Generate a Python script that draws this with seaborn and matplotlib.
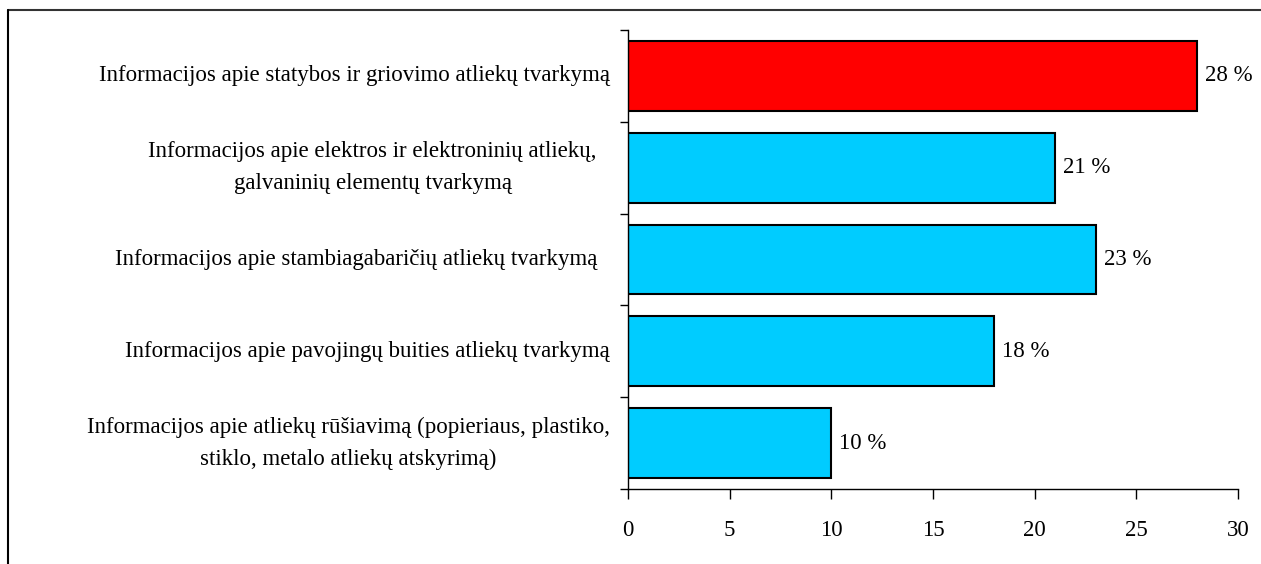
import matplotlib
matplotlib.use("Agg")
import matplotlib.pyplot as plt
import seaborn as sns
import pandas as pd
from matplotlib.lines import Line2D
from matplotlib.transforms import blended_transform_factory

categories = [
    "Informacijos apie statybos ir griovimo atliekų tvarkymą",
    "Informacijos apie elektros ir elektroninių atliekų,\ngalvaninių elementų tvarkymą",
    "Informacijos apie stambiagabaričių atliekų tvarkymą",
    "Informacijos apie pavojingų buities atliekų tvarkymą",
    "Informacijos apie atliekų rūšiavimą (popieriaus, plastiko,\nstiklo, metalo atliekų atskyrimą)",
]
values = [28, 21, 23, 18, 10]
bar_colors = ["#FF0000", "#00CCFF", "#00CCFF", "#00CCFF", "#00CCFF"]
xticks = [0, 5, 10, 15, 20, 25, 30]

sns.set_style("white")
plt.rcParams["font.family"] = ["Liberation Serif", "DejaVu Serif"]
plt.rcParams["text.color"] = "black"
plt.rcParams["xtick.color"] = "black"
plt.rcParams["ytick.color"] = "black"

FS = 16.5
df = pd.DataFrame({"cat": categories, "val": values})

fig = plt.figure(figsize=(12.61, 5.64), dpi=100)
W, H = 1261, 564
ax = fig.add_axes([628 / W, 1 - 489 / H, (1238 - 628) / W, (489 - 30) / H])

sns.barplot(data=df, x="val", y="cat", hue="cat", palette=bar_colors, legend=False,
            orient="h", width=0.76, edgecolor="black", linewidth=1.5, ax=ax, saturation=1)

ax.set_xlim(0, 30)
ax.set_ylim(4.5, -0.5)
ax.set_xticks(xticks)
ax.set_xticklabels([str(t) for t in xticks], fontsize=FS)
ax.set_yticks([])
ax.set_xlabel("")
ax.set_ylabel("")

# y ticks at category boundaries
ax.set_yticks([i - 0.5 for i in range(len(categories) + 1)], minor=True)
ax.tick_params(axis="y", which="minor", length=6, width=1, color="black", direction="out", left=True)
ax.tick_params(axis="x", length=7, width=1, color="black", direction="out", pad=15, bottom=True)

# category labels
right_edges = [610, 597, 597, 610, 610]
tr = blended_transform_factory(fig.transFigure, ax.transData)
for i, c in enumerate(categories):
    ax.text(right_edges[i] / W, i, c, transform=tr, ha="right", va="center",
            fontsize=FS, multialignment="center", linespacing=1.65)

for s in ["top", "right"]:
    ax.spines[s].set_visible(False)
for s in ["left", "bottom"]:
    ax.spines[s].set_color("black")
    ax.spines[s].set_linewidth(1)

for i, v in enumerate(values):
    ax.text(v + 0.4, i, f"{v} %", va="center", ha="left", fontsize=FS)

# figure border (top and left)
fig.add_artist(Line2D([7.5 / W, 1.0], [1 - 9.5 / H, 1 - 9.5 / H], transform=fig.transFigure,
                      color="#333333", linewidth=1.5))
fig.add_artist(Line2D([7.5 / W, 7.5 / W], [0, 1 - 9.5 / H], transform=fig.transFigure,
                      color="black", linewidth=1.5))

fig.savefig("out.png", dpi=100)
